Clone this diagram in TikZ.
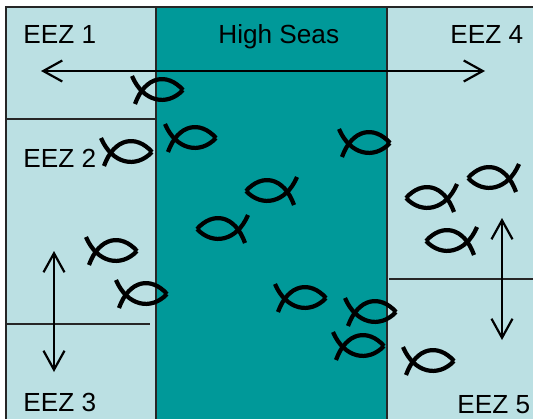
\documentclass[tikz,border=0pt]{standalone}
\usepackage{fontspec}
\setmainfont{Liberation Sans}
\usetikzlibrary{arrows.meta}
\definecolor{eezblue}{HTML}{BBE0E3}
\definecolor{seateal}{HTML}{009999}
\tikzset{>={Straight Barb[length=0.38cm,width=0.42cm]}}
\tikzset{
    zoneline/.style={black!85, line width=0.75pt},
    moveline/.style={black, line width=1.25pt, <->},
    zonelabel/.style={anchor=base west, inner sep=0pt, font=\fontsize{14.9}{18}\selectfont},
    fish/.pic={
        \draw[black, line width=2.4pt] (-48,14) .. controls (-38,-14) and (-16,-18) .. (0,0);
        \draw[black, line width=2.4pt] (-51,-14) .. controls (-40,12) and (-16,17) .. (0,0);
    }
}

\begin{document}
\begin{tikzpicture}[x=0.02cm, y=-0.02cm]
   \useasboundingbox (0,0) rectangle (533,419);
   \fill[eezblue] (6,7) rectangle (533,419);
   \fill[seateal] (156,7) rectangle (387,419);

   \draw[zoneline] (6,419) -- (6,7) -- (533,7);
   \draw[zoneline] (156,7) -- (156,419);
   \draw[zoneline] (387,7) -- (387,419);
   \draw[zoneline] (6,119) -- (156,119);
   \draw[zoneline] (6,324) -- (150,324);
   \draw[zoneline] (389,279) -- (533,279);

   \draw[moveline] (41,71) -- (485,71);
   \draw[moveline] (54,251) -- (54,372);
   \draw[moveline] (502,218) -- (502,340);

   % noses of the fish swimming right
   \foreach \x/\y in {183/90, 216/138, 152/152, 390/143, 137/251, 167/294, 326/298, 396/312, 384/346, 454/361}{
        \pic at (\x,\y) {fish};
   }
   % noses of the fish swimming left
   \foreach \x/\y in {246/191, 197/229, 468/178, 406/198, 426/241}{
        \pic[xscale=-1] at (\x,\y) {fish};
   }

   \node[zonelabel] (eez1) at (23,43) {EEZ 1};
   \node[zonelabel] (eez2) at (23,167) {EEZ 2};
   \node[zonelabel] (eez3) at (23,411) {EEZ 3};
   \node[zonelabel] (eez4) at (450,43) {EEZ 4};
   \node[zonelabel] (eez5) at (457,413) {EEZ 5};
   \node[zonelabel] (highseas) at (218,43) {High Seas};
\end{tikzpicture}
\end{document}
